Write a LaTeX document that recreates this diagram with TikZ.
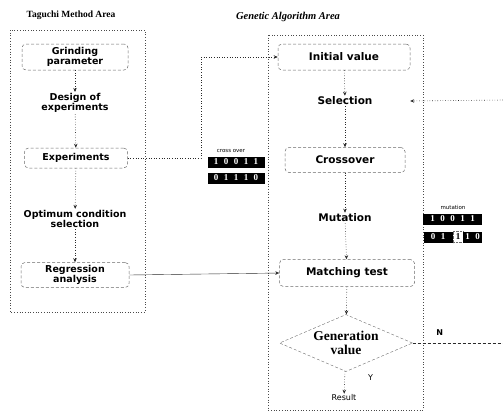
\documentclass[tikz,border=0pt]{standalone}
\usepackage{fontspec}
\setmainfont{Liberation Serif}
\setsansfont{DejaVu Sans}
\setmonofont{DejaVu Sans Mono}
\usetikzlibrary{positioning,arrows.meta,shapes.geometric}
\definecolor{inkgrey}{HTML}{2A2A2A}
\definecolor{boxgrey}{HTML}{6A6A6A}
\definecolor{areagrey}{HTML}{4A4A4A}
\newcommand{\bitgap}{\hspace{5.5pt}}
\tikzset{
  box/.style    = {rounded corners=4pt, draw=boxgrey, densely dashed, align=center,
                   font=\sffamily\bfseries\fontsize{9.5}{10.5}\selectfont,
                   inner sep=2pt, line width=0.5pt},
  gabox/.style  = {box, font=\sffamily\bfseries\fontsize{10.5}{11.5}\selectfont},
  stage/.style  = {align=center, inner sep=1pt,
                   font=\sffamily\bfseries\fontsize{9.5}{10.5}\selectfont},
  gastage/.style= {stage, font=\sffamily\bfseries\fontsize{10.5}{11.5}\selectfont},
  decide/.style = {diamond, draw=boxgrey, densely dashed, aspect=2.33, align=center,
                   minimum width=133pt, minimum height=57pt, inner sep=0pt,
                   font=\rmfamily\bfseries\fontsize{13.5}{14.5}\selectfont},
  area/.style   = {draw=areagrey, dotted, line width=0.7pt},
  title/.style  = {font=\rmfamily\bfseries\fontsize{9.5}{10}\selectfont, inner sep=0pt},
  arr/.style    = {-{Stealth[length=4pt,width=3.5pt]}, dotted, line width=0.6pt, draw=inkgrey},
  arrs/.style   = {-{Stealth[length=4pt,width=3.5pt]}, line width=0.4pt, draw=inkgrey},
  link/.style   = {densely dashed, line width=0.4pt, draw=inkgrey},
  bits/.style   = {fill=black, text=white, inner sep=0pt, minimum height=11pt,
                   font=\rmfamily\bfseries\fontsize{9}{9}\selectfont},
  bitlab/.style = {font=\sffamily\fontsize{5.5}{6}\selectfont, inner sep=0pt},
  lab/.style    = {font=\sffamily\fontsize{8}{9}\selectfont, inner sep=1pt},
}

\begin{document}
\begin{tikzpicture}[x=1pt, y=-1pt]
  \useasboundingbox (0,0) rectangle (503,413);

  % --- the two areas ---
  \draw[area] (10,30) rectangle (145,312);
  \draw[area] (268,35) rectangle (423,410);
  \node[title] (tmtitle) at (71,15) {Taguchi Method Area};
  \node[title, font=\rmfamily\bfseries\itshape\fontsize{10.5}{11}\selectfont] (gatitle) at (288,17) {Genetic Algorithm Area};

  % --- Taguchi side ---
  \node[box, minimum width=106pt, minimum height=26pt] (grind) at (75,57) {Grinding\\parameter};
  \node[stage] (design) at (75,103) {Design of\\experiments};
  \node[box, minimum width=103pt, minimum height=20pt] (expe) at (76,158) {Experiments};
  \node[stage] (optim) at (75,219) {Optimum condition\\selection};
  \node[box, minimum width=108pt, minimum height=25pt] (regr) at (75,275) {Regression\\analysis};

  \draw[arr] (grind) -- (design);
  \draw[arr] (design) -- (expe);
  \draw[arr] (expe) -- (optim);
  \draw[arr] (optim) -- (regr);

  % --- GA side ---
  \node[gabox, minimum width=132pt, minimum height=26pt] (init) at (344,57) {Initial value};
  \node[gastage, minimum width=130pt] (sel) at (345,101) {Selection};
  \node[gabox, minimum width=120pt, minimum height=25pt] (cross) at (345,160) {Crossover};
  \node[gastage, minimum width=130pt] (mut) at (345,218) {Mutation};
  \node[gabox, minimum width=135pt, minimum height=27pt] (match) at (347,273) {Matching test};
  \node[decide] (gen) at (346,343) {Generation\\value};
  \node[lab] (result) at (344,398) {Result};

  \draw[arr] (init) -- (sel);
  \draw[arr] (sel) -- (cross);
  \draw[arr] (cross) -- (mut);
  \draw[arr] (mut) -- (match);
  \draw[arr] (match) -- (gen);
  \draw[arr] (gen) -- node[lab, right=22pt, pos=0.3] {Y} (result);

  % --- links between the areas ---
  \coordinate (xo) at (201,158);
  \draw[arr] (expe.east) -- (xo) |- (init.west);
  \draw[arrs] (regr.east) -- (match.west);

  \coordinate (nout) at (503,343);
  \coordinate (nin) at (503,100);
  \draw[link] (gen.east) -- node[lab, above=6pt, pos=0.3, font=\sffamily\bfseries\fontsize{8}{9}\selectfont] {N} (nout);
  \draw[arr] (nin) -- (sel.east);

  % --- crossover bits ---
  \node[bitlab] (xolab) at (231,151) {cross over};
  \node[bits, minimum width=57pt] (xo1) at (236,162) {1\bitgap0\bitgap0\bitgap1\bitgap1};
  \node[bits, minimum width=57pt] (xo2) at (236,178) {0\bitgap1\bitgap1\bitgap1\bitgap0};

  % --- mutation bits ---
  \node[bitlab] (mulab) at (453,207) {mutation};
  \node[bits, minimum width=59pt] (mu1) at (452.5,219) {1\bitgap0\bitgap0\bitgap1\bitgap1};
  \node[bits, minimum width=29pt] (mu2) at (438,237) {0\bitgap1};
  \node[bits, minimum width=10pt, fill=white, text=black, draw=boxgrey, densely dotted] (mu3) at (458,237) {1};
  \node[bits, minimum width=19pt] (mu4) at (472.5,237) {1\bitgap0};
\end{tikzpicture}
\end{document}
